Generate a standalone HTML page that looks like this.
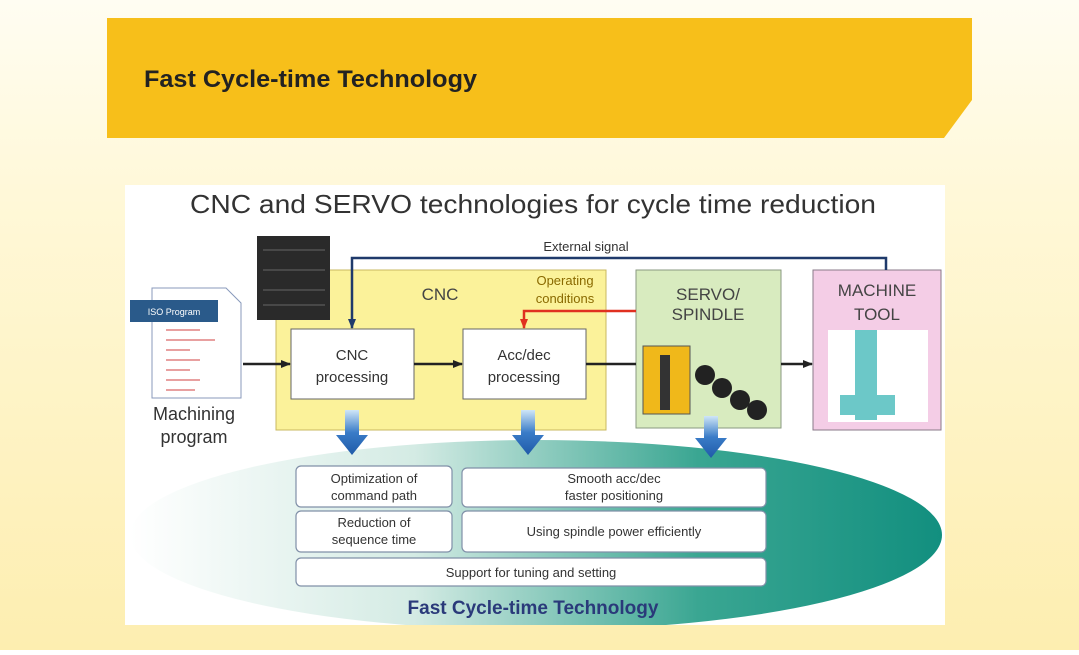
<!DOCTYPE html>
<html><head><style>
body{margin:0;width:1079px;height:650px;overflow:hidden;font-family:"Liberation Sans",sans-serif;}
</style></head><body>
<svg width="1079" height="650" viewBox="0 0 1079 650" xmlns="http://www.w3.org/2000/svg" font-family="Liberation Sans, sans-serif">
<defs>
<linearGradient id="bg" x1="0" y1="0" x2="0" y2="1">
<stop offset="0" stop-color="#fffdf2"/><stop offset="0.3" stop-color="#fff8d8"/><stop offset="1" stop-color="#fdeeb0"/></linearGradient>
<linearGradient id="el" x1="0" y1="0" x2="1" y2="0">
<stop offset="0" stop-color="#ffffff"/><stop offset="0.35" stop-color="#d4ebe4"/><stop offset="0.7" stop-color="#3aa692"/><stop offset="1" stop-color="#128f7f"/></linearGradient>
<linearGradient id="ar" x1="0" y1="0" x2="0" y2="1">
<stop offset="0" stop-color="#cfe6f7"/><stop offset="0.5" stop-color="#3a7cc8"/><stop offset="1" stop-color="#1f5aa8"/></linearGradient>
<clipPath id="pc"><rect x="125" y="185" width="820" height="440"/></clipPath>
<marker id="ah" markerUnits="userSpaceOnUse" markerWidth="10" markerHeight="10" refX="9" refY="5" orient="auto"><path d="M0,1 L10,5 L0,9z" fill="#222"/></marker>
<marker id="ahb" markerUnits="userSpaceOnUse" markerWidth="10" markerHeight="10" refX="9" refY="5" orient="auto"><path d="M0,1 L10,5 L0,9z" fill="#1f3a6b"/></marker>
<marker id="ahr" markerUnits="userSpaceOnUse" markerWidth="10" markerHeight="10" refX="9" refY="5" orient="auto"><path d="M0,1 L10,5 L0,9z" fill="#e03020"/></marker>
</defs>
<rect width="1079" height="650" fill="url(#bg)"/>
<path d="M107,18 H972 V100 L944,138 H107z" fill="#f7bf1a"/>
<text x="144" y="87" font-size="24" font-weight="bold" fill="#222" textLength="333" lengthAdjust="spacingAndGlyphs">Fast Cycle-time Technology</text>
<rect x="125" y="185" width="820" height="440" fill="#fff"/>
<g clip-path="url(#pc)"><ellipse cx="536" cy="535" rx="406" ry="95" fill="url(#el)"/></g>
<text x="533" y="213" font-size="26" text-anchor="middle" fill="#333" textLength="686" lengthAdjust="spacingAndGlyphs">CNC and SERVO technologies for cycle time reduction</text>
<rect x="276" y="270" width="330" height="160" fill="#fbf29a" stroke="#c8b860"/>
<text x="440" y="300" font-size="17" text-anchor="middle" fill="#444">CNC</text>
<rect x="257" y="236" width="73" height="84" fill="#2a2a2a"/>
<g stroke="#666" stroke-width="1"><line x1="263" y1="250" x2="325" y2="250"/><line x1="263" y1="270" x2="325" y2="270"/><line x1="263" y1="290" x2="325" y2="290"/><line x1="263" y1="305" x2="325" y2="305"/></g>
<text x="565" y="285" font-size="13" text-anchor="middle" fill="#8a6a00">Operating</text>
<text x="565" y="303" font-size="13" text-anchor="middle" fill="#8a6a00">conditions</text>
<rect x="291" y="329" width="123" height="70" fill="#fff" stroke="#666"/>
<text x="352" y="360" font-size="15" text-anchor="middle" fill="#333">CNC</text>
<text x="352" y="382" font-size="15" text-anchor="middle" fill="#333">processing</text>
<rect x="463" y="329" width="123" height="70" fill="#fff" stroke="#666"/>
<text x="524" y="360" font-size="15" text-anchor="middle" fill="#333">Acc/dec</text>
<text x="524" y="382" font-size="15" text-anchor="middle" fill="#333">processing</text>
<rect x="636" y="270" width="145" height="158" fill="#d8ebbf" stroke="#8a9a80"/>
<text x="708" y="300" font-size="17" text-anchor="middle" fill="#444">SERVO/</text>
<text x="708" y="320" font-size="17" text-anchor="middle" fill="#444">SPINDLE</text>
<rect x="643" y="346" width="47" height="68" fill="#f0b81a" stroke="#555"/>
<rect x="660" y="355" width="10" height="55" fill="#333"/>
<g fill="#222"><circle cx="705" cy="375" r="10"/><circle cx="722" cy="388" r="10"/><circle cx="740" cy="400" r="10"/><circle cx="757" cy="410" r="10"/></g>
<rect x="813" y="270" width="128" height="160" fill="#f4cde6" stroke="#8a7a88"/>
<text x="877" y="296" font-size="17" text-anchor="middle" fill="#444">MACHINE</text>
<text x="877" y="320" font-size="17" text-anchor="middle" fill="#444">TOOL</text>
<rect x="828" y="330" width="100" height="92" fill="#fff"/>
<rect x="855" y="330" width="22" height="90" fill="#6cc8c8"/>
<rect x="840" y="395" width="55" height="20" fill="#6cc8c8"/>
<path d="M152,288 H226 L241,303 V398 H152z" fill="#fff" stroke="#8899bb"/>
<rect x="130" y="300" width="88" height="22" fill="#2a5a8a"/>
<text x="174" y="315" font-size="9" text-anchor="middle" fill="#fff">ISO Program</text>
<g stroke="#e08080" stroke-width="1.5"><line x1="166" y1="330" x2="200" y2="330"/><line x1="166" y1="340" x2="215" y2="340"/><line x1="166" y1="350" x2="190" y2="350"/><line x1="166" y1="360" x2="200" y2="360"/><line x1="166" y1="370" x2="190" y2="370"/><line x1="166" y1="380" x2="200" y2="380"/><line x1="166" y1="390" x2="195" y2="390"/></g>
<text x="194" y="420" font-size="18" text-anchor="middle" fill="#333">Machining</text>
<text x="194" y="443" font-size="18" text-anchor="middle" fill="#333">program</text>
<g stroke="#222" stroke-width="2.5" fill="none">
<line x1="243" y1="364" x2="290" y2="364" marker-end="url(#ah)"/>
<line x1="414" y1="364" x2="462" y2="364" marker-end="url(#ah)"/>
<line x1="586" y1="364" x2="636" y2="364"/>
<line x1="781" y1="364" x2="812" y2="364" marker-end="url(#ah)"/>
</g>
<path d="M886,270 V258 H352 V328" stroke="#1f3a6b" stroke-width="2.5" fill="none" marker-end="url(#ahb)"/>
<text x="586" y="251" font-size="13" text-anchor="middle" fill="#333">External signal</text>
<path d="M636,311 H524 V328" stroke="#e03020" stroke-width="2.5" fill="none" marker-end="url(#ahr)"/>
<g fill="url(#ar)">
<path d="M345,410 h14 v25 h9 l-16,20 l-16,-20 h9z"/>
<path d="M521,410 h14 v25 h9 l-16,20 l-16,-20 h9z"/>
<path d="M704,416 h14 v22 h9 l-16,20 l-16,-20 h9z"/>
</g>
<g fill="#fff" stroke="#8090a8" stroke-width="1.2">
<rect x="296" y="466" width="156" height="41" rx="5"/>
<rect x="462" y="468" width="304" height="39" rx="5"/>
<rect x="296" y="511" width="156" height="41" rx="5"/>
<rect x="462" y="511" width="304" height="41" rx="5"/>
<rect x="296" y="558" width="470" height="28" rx="5"/>
</g>
<g font-size="13" text-anchor="middle" fill="#333">
<text x="374" y="483">Optimization of</text><text x="374" y="500">command path</text>
<text x="614" y="483">Smooth acc/dec</text><text x="614" y="500">faster positioning</text>
<text x="374" y="527">Reduction of</text><text x="374" y="544">sequence time</text>
<text x="614" y="536">Using spindle power efficiently</text>
<text x="531" y="577">Support for tuning and setting</text>
</g>
<text x="533" y="614" font-size="19" font-weight="bold" text-anchor="middle" fill="#2a3a7a">Fast Cycle-time Technology</text>
</svg>
</body></html>
